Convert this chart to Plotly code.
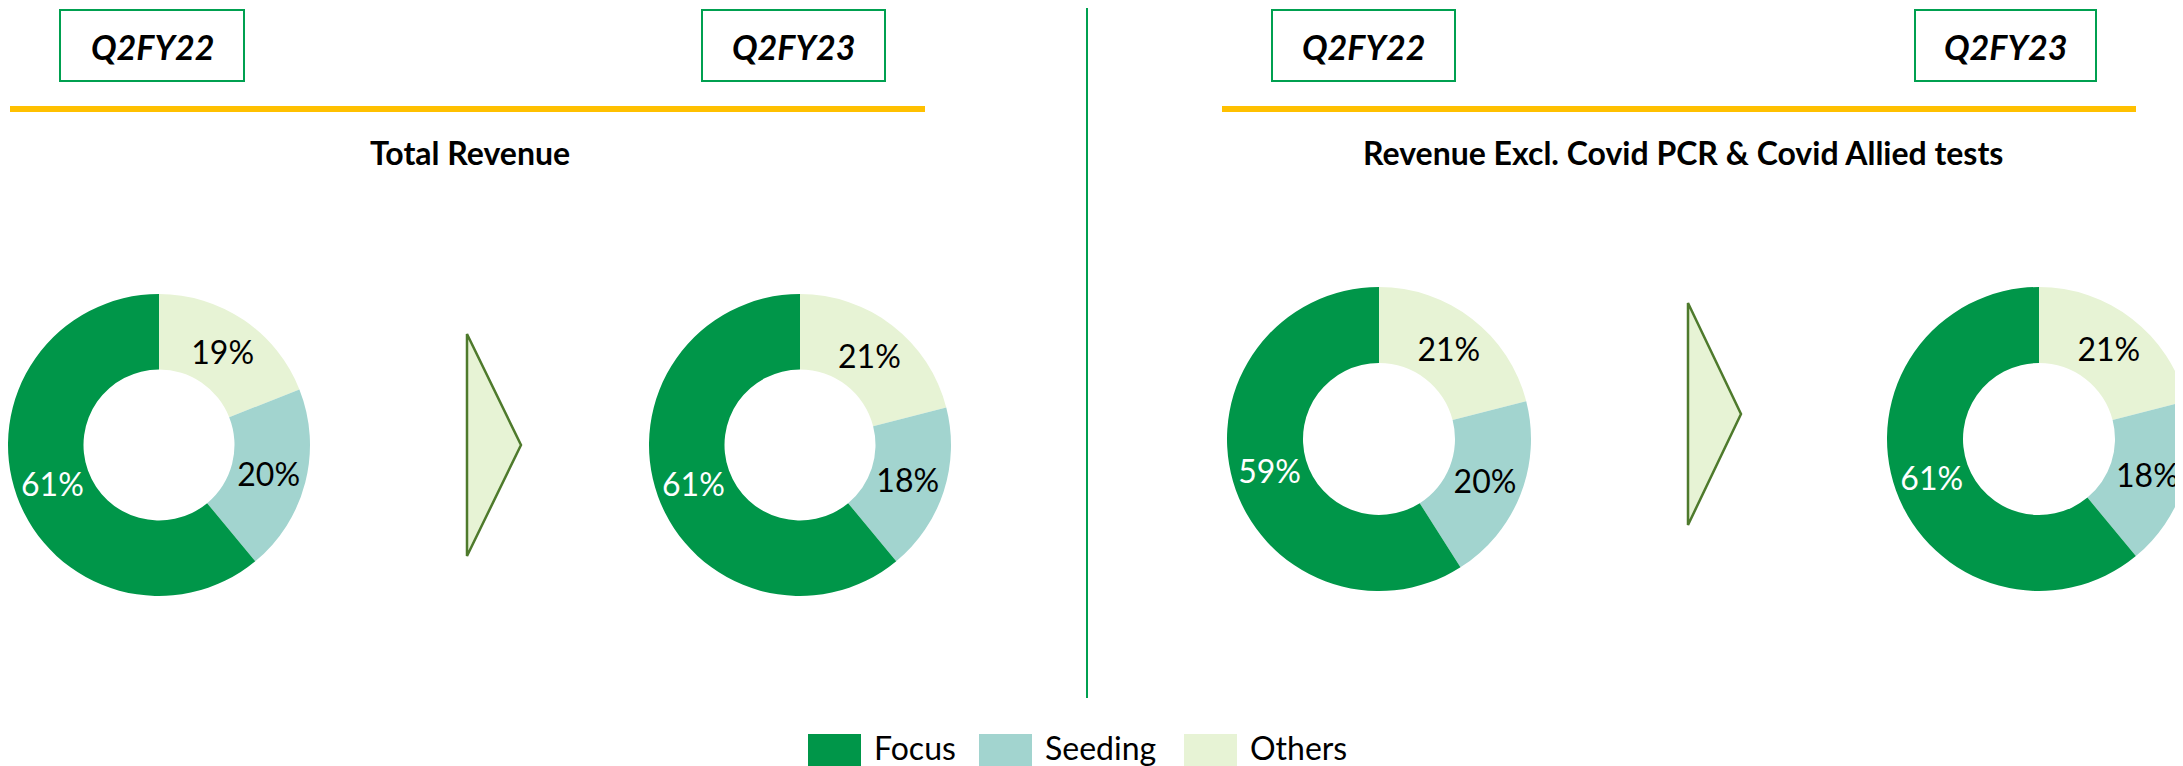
import plotly.graph_objects as go

W, H = 2183, 766

# ---------------- data ----------------
categories = ["Focus", "Seeding", "Others"]
colors = ["#009649", "#A2D4CF", "#E7F3D5"]
label_colors = ["white", "black", "black"]

period_labels = ["Q2FY22", "Q2FY23", "Q2FY22", "Q2FY23"]
panel_titles = ["Total Revenue", "Revenue Excl. Covid PCR & Covid Allied tests"]

total_q2fy22 = [61, 20, 19]
total_q2fy23 = [61, 18, 21]
excl_q2fy22 = [59, 20, 21]
excl_q2fy23 = [61, 18, 21]

series = [total_q2fy22, total_q2fy23, excl_q2fy22, excl_q2fy23]

# ---------------- layout geometry (pixels) ----------------
donut_geom = [(151, 437, 151), (792, 437, 151), (1371, 431, 152), (2031, 431, 152)]
box_geom = [(52, 236), (694, 877), (1264, 1447), (1907, 2088)]
title_x = [462, 1675]
arrow_geom = [(459, 326, 513, 548), (1680, 295, 1733, 517)]
yellow_lines = [(2, 917), (1214, 2128)]

FONT = "Lato, 'Open Sans', sans-serif"


def px(x):
    return x / W


def py(y):
    return 1 - y / H


fig = go.Figure()

# slices drawn clockwise from 12 o'clock: Others, Seeding, Focus
for vals, (cx, cy, r) in zip(series, donut_geom):
    fig.add_trace(go.Pie(
        labels=categories[::-1],
        values=vals[::-1],
        hole=0.5,
        sort=False,
        direction="clockwise",
        rotation=0,
        marker=dict(colors=colors[::-1], line=dict(width=0)),
        texttemplate="%{value}%",
        textposition="inside",
        insidetextorientation="horizontal",
        textfont=dict(family=FONT, size=32, color=label_colors[::-1]),
        hoverinfo="skip",
        showlegend=False,
        domain=dict(x=[max(0, px(cx - r)), min(1, px(cx + r))],
                    y=[py(cy + r), py(cy - r)]),
    ))

shapes = []
annotations = []

# period boxes
for (x0, x1), lab in zip(box_geom, period_labels):
    shapes.append(dict(type="rect", xref="paper", yref="paper",
                       x0=px(x0), x1=px(x1), y0=py(73), y1=py(2),
                       line=dict(color="#00A050", width=2), fillcolor="white"))
    annotations.append(dict(xref="paper", yref="paper", x=px((x0 + x1) / 2), y=py(38),
                            text="<b><i>" + lab + "</i></b>", showarrow=False,
                            xanchor="center", yanchor="middle",
                            font=dict(family=FONT, size=34, color="black")))

# yellow rules
for x0, x1 in yellow_lines:
    shapes.append(dict(type="line", xref="paper", yref="paper",
                       x0=px(x0), x1=px(x1), y0=py(101), y1=py(101),
                       line=dict(color="#FFC000", width=6)))

# panel titles
for t, x in zip(panel_titles, title_x):
    annotations.append(dict(xref="paper", yref="paper", x=px(x), y=py(144),
                            text="<b>" + t + "</b>", showarrow=False,
                            xanchor="center", yanchor="middle",
                            font=dict(family=FONT, size=32, color="black")))

# divider
shapes.append(dict(type="line", xref="paper", yref="paper",
                   x0=px(1079), x1=px(1079), y0=py(0), y1=py(690),
                   line=dict(color="#00A050", width=2)))

# arrows
for x0, y0, xt, y1 in arrow_geom:
    ym = (y0 + y1) / 2
    path = "M {a},{b} L {c},{d} L {e},{f} Z".format(
        a=px(x0), b=py(y0), c=px(xt), d=py(ym), e=px(x0), f=py(y1))
    shapes.append(dict(type="path", xref="paper", yref="paper", path=path,
                       fillcolor="#E7F3D5", line=dict(color="#4E7A2C", width=2.5)))

# legend (manual)
legend_sw_x = [800, 971, 1176]
for cat, col, sx in zip(categories, colors, legend_sw_x):
    shapes.append(dict(type="rect", xref="paper", yref="paper",
                       x0=px(sx), x1=px(sx + 53), y0=py(779), y1=py(726),
                       line=dict(width=0), fillcolor=col))
    annotations.append(dict(xref="paper", yref="paper", x=px(sx + 64), y=py(739),
                            text=cat, showarrow=False, xanchor="left", yanchor="middle",
                            font=dict(family=FONT, size=32, color="black")))

fig.update_layout(
    width=W, height=H,
    margin=dict(l=0, r=0, t=0, b=0),
    paper_bgcolor="white", plot_bgcolor="white",
    shapes=shapes, annotations=annotations,
    uniformtext=dict(minsize=32, mode="show"),
    showlegend=False,
)

fig.write_html("out.html")
